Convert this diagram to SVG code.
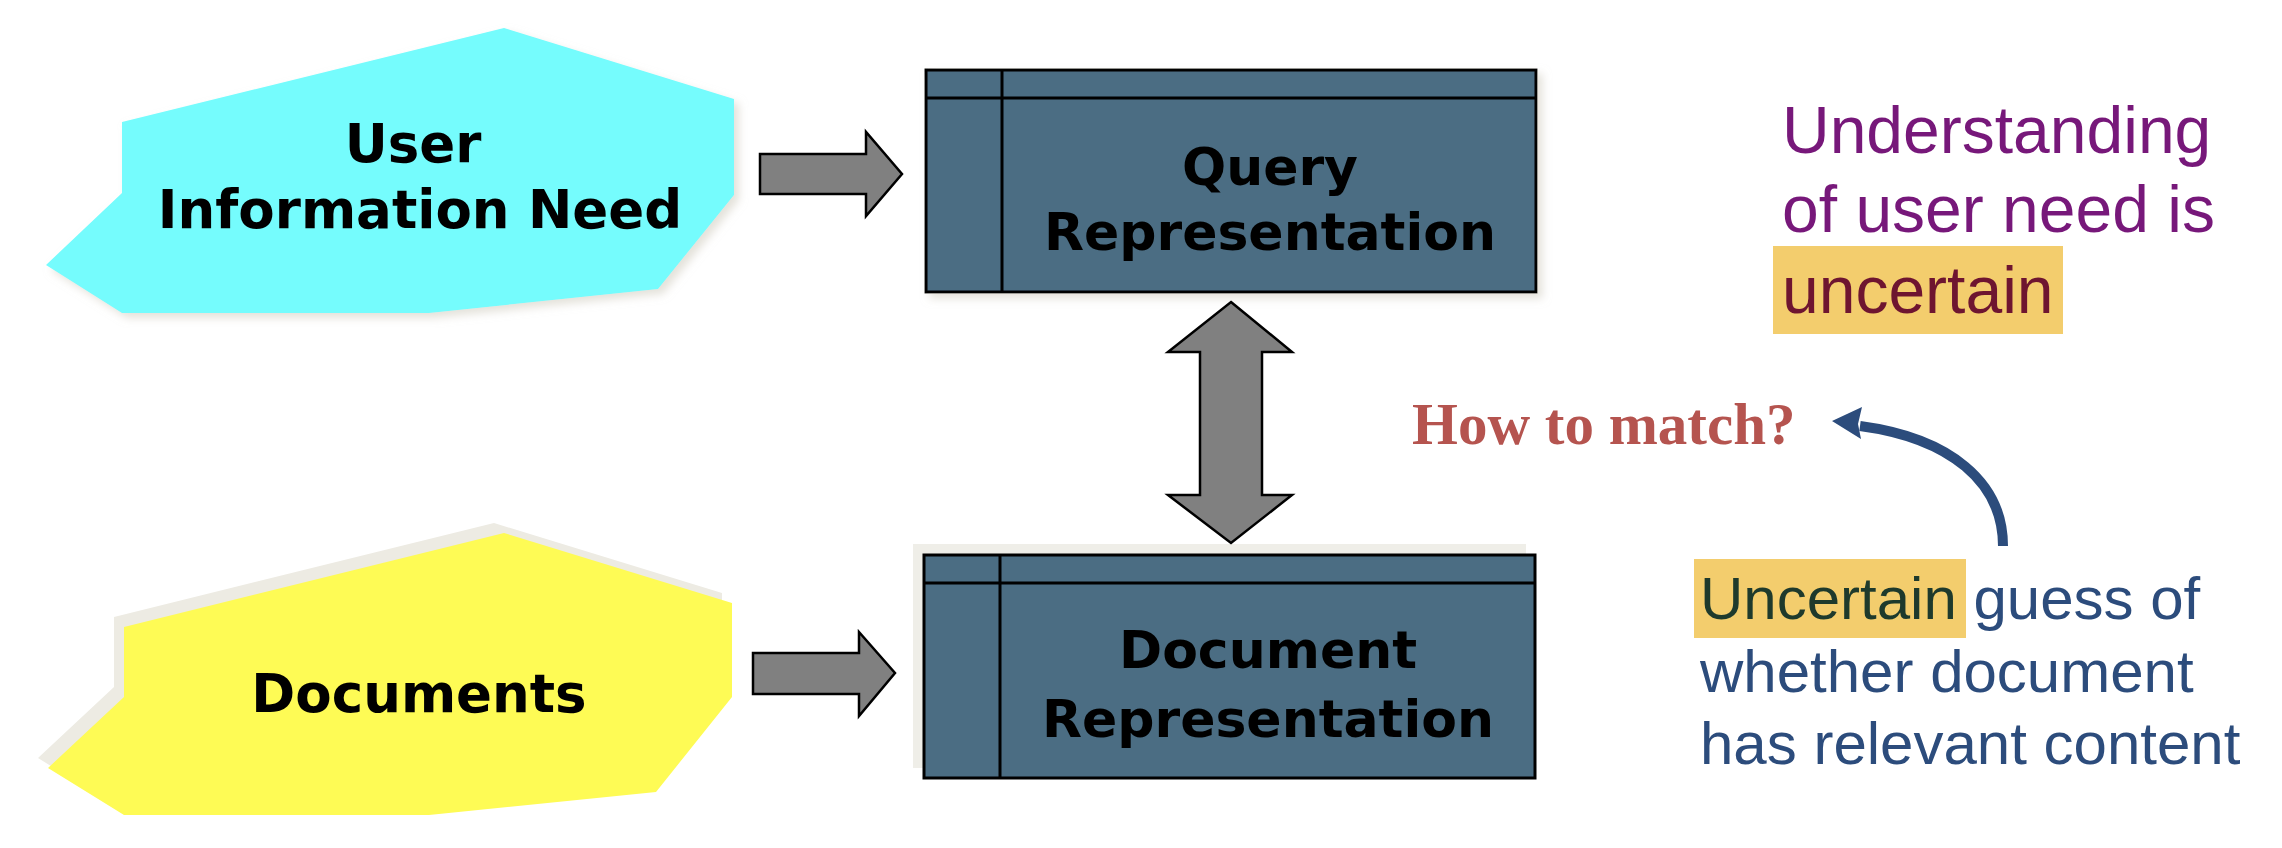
<svg xmlns="http://www.w3.org/2000/svg" width="2282" height="848" viewBox="0 0 2282 848">
  <defs>
    <filter id="soft" x="-10%" y="-10%" width="130%" height="130%">
      <feDropShadow dx="5" dy="5" stdDeviation="4" flood-color="#cfcbbd" flood-opacity="0.55"/>
    </filter>
    <style>
      .lbl { font-family: "DejaVu Sans", Verdana, sans-serif; font-weight: bold; fill: #000; text-anchor: middle; }
      .box { fill: #4b6d83; stroke: #000; stroke-width: 3; }
      .line { stroke: #000; stroke-width: 3; fill: none; }
      .bigarrow { fill: #808080; stroke: #000; stroke-width: 2.5; stroke-linejoin: miter; }
      .note { font-family: "Liberation Sans", Arial, sans-serif; }
      .hl { fill: #f3cd6d; }
    </style>
  </defs>
  <rect width="2282" height="848" fill="#ffffff"/>

  <g id="user-need">
    <polygon filter="url(#soft)" fill="#75fcfd" points="122,122 504,28 734,99 734,195 658,289 429,313 122,313 46,265 122,193"/>
    <text class="lbl" font-size="53" x="413" y="162">User</text>
    <text class="lbl" font-size="53" x="420" y="228">Information Need</text>
  </g>

  <g id="documents">
    <polygon fill="#edebe3" points="114,617 494,523 722,593 722,687 646,782 419,805 114,805 38,758 114,687"/>
    <polygon fill="#fefb55" points="124,627 504,533 732,603 732,697 656,792 429,815 124,815 48,768 124,697"/>
    <text class="lbl" font-size="53" x="419" y="712">Documents</text>
  </g>

  <g id="query-rep">
    <rect class="box" filter="url(#soft)" x="926" y="70" width="610" height="222"/>
    <line class="line" x1="926" y1="98" x2="1536" y2="98"/>
    <line class="line" x1="1002" y1="70" x2="1002" y2="292"/>
    <text class="lbl" font-size="52" x="1270" y="185">Query</text>
    <text class="lbl" font-size="52" x="1270" y="250">Representation</text>
  </g>

  <g id="doc-rep">
    <rect fill="#efeee8" x="913" y="544" width="613" height="224"/>
    <rect class="box" x="924" y="555" width="611" height="223"/>
    <line class="line" x1="924" y1="583" x2="1535" y2="583"/>
    <line class="line" x1="1000" y1="555" x2="1000" y2="778"/>
    <text class="lbl" font-size="52" x="1268" y="668">Document</text>
    <text class="lbl" font-size="52" x="1268" y="737">Representation</text>
  </g>

  <g id="connectors">
    <polygon class="bigarrow" points="760,154 866,154 866,132 902,174 866,216 866,194 760,194"/>
    <polygon class="bigarrow" points="753,653 859,653 859,632 895,673 859,716 859,694 753,694"/>
    <polygon class="bigarrow" points="1231,302 1292,352 1262,352 1262,495 1292,495 1231,543 1168,495 1200,495 1200,352 1168,352"/>
    <path d="M 2003 546 C 2003 482, 1950 438, 1860 426" fill="none" stroke="#2c4c7c" stroke-width="10"/>
    <polygon fill="#2c4c7c" points="1832,421 1862,407 1858,424 1861,439"/>
  </g>

  <g id="note-understanding">
    <rect class="hl" x="1773" y="246" width="290" height="88"/>
    <text class="note" font-size="66" fill="#77187a" x="1782" y="153">Understanding</text>
    <text class="note" font-size="66" fill="#77187a" x="1782" y="232">of user need is</text>
    <text class="note" font-size="66" fill="#6e1530" x="1782" y="313">uncertain</text>
  </g>

  <g id="how-to-match">
    <text font-family="'Liberation Serif', 'Times New Roman', serif" font-weight="bold" font-size="59" fill="#b5544f" x="1412" y="444">How to match?</text>
  </g>

  <g id="note-guess">
    <rect class="hl" x="1694" y="559" width="272" height="79"/>
    <text class="note" font-size="60" x="1700" y="619"><tspan fill="#1e3a2c">Uncertain</tspan><tspan fill="#2c4c7c"> guess of</tspan></text>
    <text class="note" font-size="60" fill="#2c4c7c" x="1700" y="692">whether document</text>
    <text class="note" font-size="60" fill="#2c4c7c" x="1700" y="764">has relevant content</text>
  </g>
</svg>
